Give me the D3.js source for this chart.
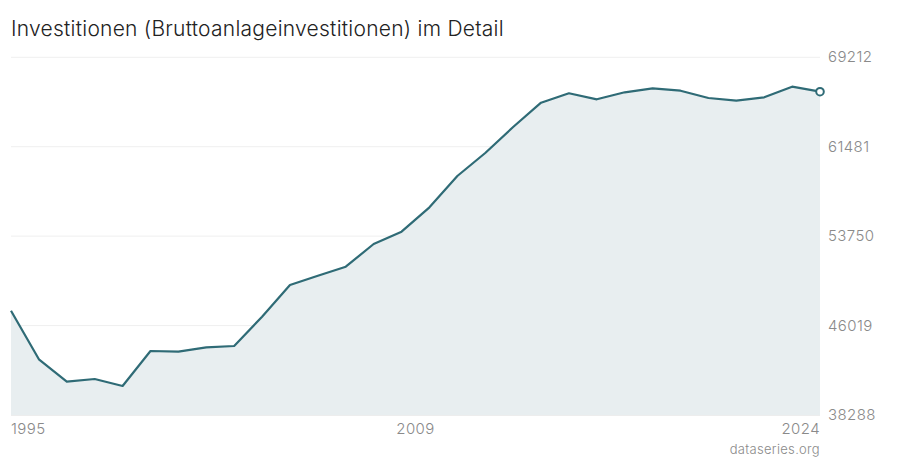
<!DOCTYPE html>
<html><head><meta charset="utf-8">
<script src="https://cdn.jsdelivr.net/npm/d3@7"></script>
<style>
html,body{margin:0;padding:0;background:#fff;}
svg{display:block;font-family:Inter, "Noto Sans", sans-serif;}
</style></head>
<body>
<svg id="c" width="900" height="460"></svg>
<script>
const years = d3.range(1995, 2025);
const values = [47306, 43104, 41168, 41401, 40796, 43822, 43761, 44141, 44254, 46787,
  49527, 50332, 51110, 53072, 54135, 56244, 58950, 60939, 63186, 65287,
  66100, 65581, 66186, 66532, 66325, 65693, 65460, 65754, 66670, 66238];
const yTicks = [38288, 46019, 53750, 61481, 69212];
const xLabels = ["1995", "2009", "2024"];
const title = "Investitionen (Bruttoanlageinvestitionen) im Detail";
const source = "dataseries.org";

const svg = d3.select("#c");
const L = 11, R = 820, T = 57.3, B = 415;
const x = d3.scaleLinear().domain([1995, 2024]).range([L, R]);
const y = d3.scaleLinear().domain([38288, 69212]).range([B, T]);
const data = years.map((yr, i) => ({yr, v: values[i]}));

svg.append("text").attr("x", 11).attr("y", 36).attr("font-size", 21)
  .attr("fill", "#222").attr("font-weight", 300).attr("letter-spacing", 0.25).text(title);

// grid
svg.append("g").selectAll("line").data(yTicks).join("line")
  .attr("x1", L).attr("x2", R).attr("y1", d => y(d)).attr("y2", d => y(d))
  .attr("stroke", d => d === yTicks[0] ? "#dcdcdc" : "#efefef").attr("stroke-width", 1);

svg.append("path").datum(data)
  .attr("d", d3.area().x(d => x(d.yr)).y0(B).y1(d => y(d.v)))
  .attr("fill", "#e8eef0");

svg.append("path").datum(data)
  .attr("d", d3.line().x(d => x(d.yr)).y(d => y(d.v)))
  .attr("fill", "none").attr("stroke", "#2f6b76").attr("stroke-width", 2.2)
  .attr("stroke-linejoin", "round");

const last = data[data.length - 1];
svg.append("circle").attr("cx", x(last.yr)).attr("cy", y(last.v)).attr("r", 3.8)
  .attr("fill", "#fff").attr("stroke", "#2f6b76").attr("stroke-width", 2);

// y labels
svg.append("g").selectAll("text").data(yTicks).join("text")
  .attr("x", 828).attr("y", d => y(d) + 5).attr("font-size", 15)
  .attr("letter-spacing", 0.4).attr("font-weight", 300)
  .attr("fill", "#8a8a8a").text(d => d);

// x labels: start, middle, end
const xl = svg.append("g").attr("font-size", 15).attr("fill", "#8a8a8a")
  .attr("font-weight", 300).attr("letter-spacing", 0.4);
xl.append("text").attr("x", L).attr("y", 434).attr("text-anchor", "start").text(xLabels[0]);
xl.append("text").attr("x", (L + R) / 2).attr("y", 434).attr("text-anchor", "middle").text(xLabels[1]);
xl.append("text").attr("x", R).attr("y", 434).attr("text-anchor", "end").text(xLabels[2]);

svg.append("text").attr("x", R).attr("y", 454).attr("text-anchor", "end")
  .attr("font-size", 13).attr("font-weight", 300).attr("letter-spacing", 0.3)
  .attr("fill", "#8a8a8a").text(source);
</script>
</body></html>
